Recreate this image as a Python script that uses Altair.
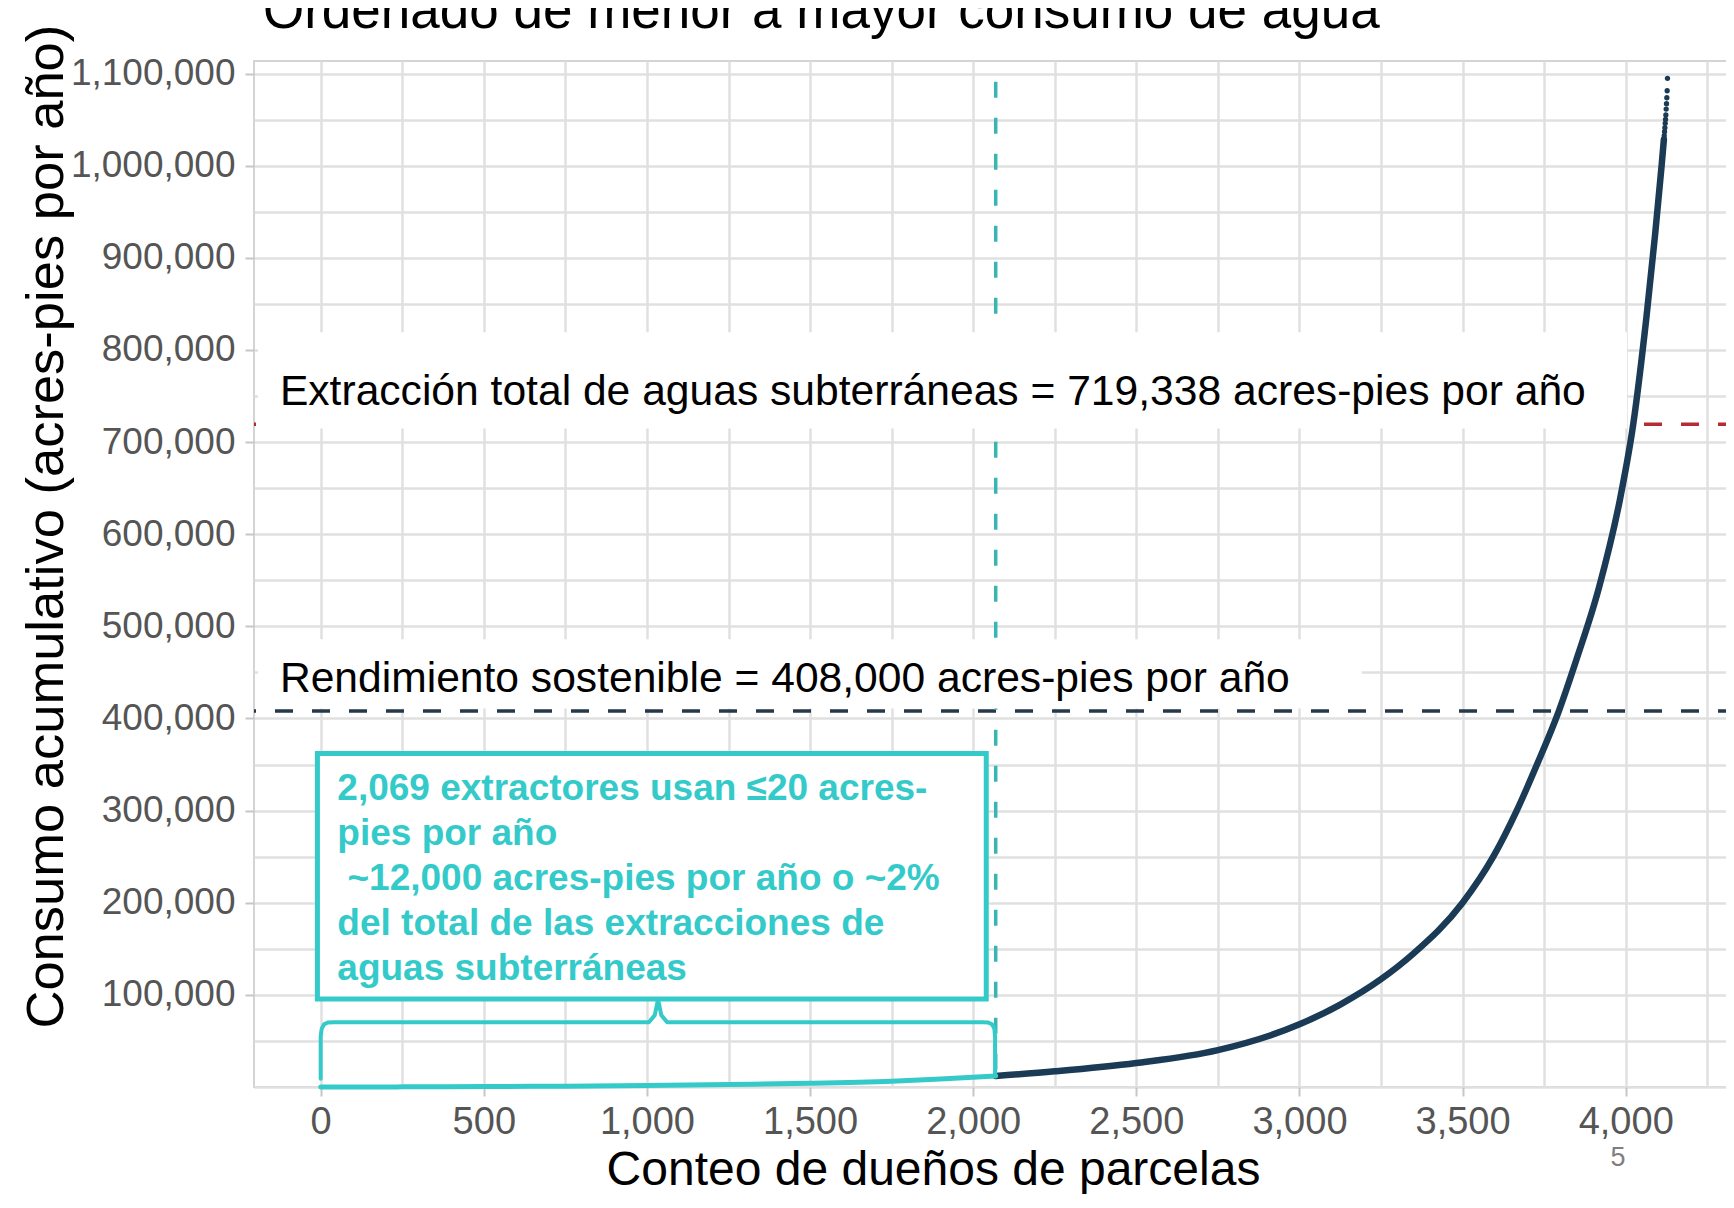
import altair as alt
import pandas as pd

# ---------------- data ----------------
# cumulative consumption, owners sorted from smallest to largest user
small_users_x = [0, 250, 500, 750, 1000, 1250, 1500, 1750, 1900, 2069]
small_users_cum = [0, 150, 450, 900, 1600, 2600, 4000, 6300, 8600, 12000]

large_users_x = [2069, 2250, 2500, 2750, 3000, 3125, 3250, 3350, 3500, 3594,
                 3666, 3728, 3795, 3850, 3918, 3983, 4023, 4063, 4090, 4110, 4117]
large_users_cum = [12000, 17000, 26000, 40000, 68000, 89500, 117000, 145000, 200000, 250000,
                   300000, 350000, 408000, 465000, 542000, 639000, 719338, 834000, 925000,
                   1000000, 1028500]

top_users_x = [4117, 4118, 4119, 4120, 4121, 4122, 4123, 4124, 4125, 4126, 4127, 4128]
top_users_cum = [1028500, 1032500, 1036800, 1041200, 1045900, 1050100, 1055000, 1061400,
                 1067200, 1073700, 1081300, 1094800]

sustainable_yield = [408000]
total_extraction = [719338]
small_user_cutoff = [2069]
cutoff_line_top = [1091000]

x_ticks = [0, 250, 500, 750, 1000, 1250, 1500, 1750, 2000, 2250, 2500, 2750,
           3000, 3250, 3500, 3750, 4000, 4250]
y_ticks = [0, 50000, 100000, 150000, 200000, 250000, 300000, 350000, 400000, 450000,
           500000, 550000, 600000, 650000, 700000, 750000, 800000, 850000, 900000,
           950000, 1000000, 1050000, 1100000]

# ---------------- annotation texts ----------------
title_text = "Ordenado de menor a mayor consumo de agua"
x_title = "Conteo de dueños de parcelas"
y_title = "Consumo acumulativo (acres-pies por año)"
extraction_label = "Extracción total de aguas subterráneas = 719,338 acres-pies por año"
yield_label = "Rendimiento sostenible = 408,000 acres-pies por año"
small_users_lines = [
    "2,069 extractores usan \u226420 acres-",
    "pies por año",
    "~12,000 acres-pies por año o ~2%",
    "del total de las extracciones de",
    "aguas subterráneas",
]
page_number = "5"

# ---------------- annotation layout (data coordinates) ----------------
brace_x = [0, 0, 3, 10, 22, 40, 1006, 1024, 1034, 1044, 1062, 2028, 2046, 2058, 2065, 2067, 2067]
brace_y = [9000, 55000, 63000, 68000, 70000, 70300, 70300, 78000, 95000, 78000, 70300,
           70300, 70000, 68000, 63000, 55000, 12500]

label_boxes = pd.DataFrame({
    "x1": [-192, -192], "x2": [4004, 3191],
    "y1": [714800, 410700], "y2": [819300, 486000],
})
label_texts = pd.DataFrame({
    "x": [-125, -125], "y": [740100, 428400],
    "label": [extraction_label, yield_label],
})
# teal note: one row per line (line 3 starts one space further right)
note_first_baseline = 311200
note_line_step = 48640
note_lines = pd.DataFrame({
    "x": [51, 51, 82, 51, 51],
    "y": [note_first_baseline - i * note_line_step for i in range(len(small_users_lines))],
    "line": small_users_lines,
})

FONT = "Liberation Sans"
TEAL = "#34CACA"
TEAL_DARK = "#3AB6B2"
NAVY = "#1B3A55"
RED = "#B32E33"
DASH = "#26394A"

xs = alt.Scale(domain=[-204.4, 4338], nice=False, zero=False)
ys = alt.Scale(domain=[0, 1113600], nice=False, zero=False)

x_axis = alt.Axis(
    title=x_title, values=x_ticks,
    labelExpr="datum.value % 500 === 0 ? format(datum.value, ',') : ''",
    labelFont=FONT, labelFontSize=38, labelColor="#555555", labelPadding=7,
    labelOverlap=False, labelFlush=False,
    tickSize=9, tickWidth=2,
    tickColor={"condition": {"test": "datum.value % 500 === 0", "value": "#c6c6c6"},
               "value": "transparent"},
    grid=True, gridColor="#e0e0e0", gridWidth=2.5, domain=False,
    titleFont=FONT, titleFontSize=48, titleFontWeight="normal", titleColor="#000000",
    titleX=679, titleY=97, titleAlign="center", titleBaseline="alphabetic",
)
y_axis = alt.Axis(
    title=y_title, values=y_ticks,
    labelExpr="datum.value % 100000 === 0 && datum.value > 0 ? format(datum.value, ',') : ''",
    labelFont=FONT, labelFontSize=37, labelColor="#555555", labelPadding=10,
    labelOverlap=False, labelFlush=False,
    tickSize=9, tickWidth=2,
    tickColor={"condition": {"test": "datum.value % 100000 === 0 && datum.value > 0",
                             "value": "#c6c6c6"},
               "value": "transparent"},
    grid=True, gridColor="#e0e0e0", gridWidth=2.5, domain=False,
    titleFont=FONT, titleFontSize=52.5, titleFontWeight="normal", titleColor="#000000",
    titleAngle=270, titleX=-192, titleY=967, titleAlign="left", titleBaseline="alphabetic",
)


def X(field):
    return alt.X(field, type="quantitative", scale=xs, axis=x_axis, title=x_title)


def Y(field):
    return alt.Y(field, type="quantitative", scale=ys, axis=y_axis, title=y_title)


red_rule = alt.Chart(pd.DataFrame({"y": total_extraction})).mark_rule(
    color=RED, strokeWidth=3.5, strokeDash=[18, 19]).encode(y=Y("y"))

yield_rule = alt.Chart(pd.DataFrame({"y": sustainable_yield})).mark_rule(
    color=DASH, strokeWidth=3.5, strokeDash=[18, 19]).encode(y=Y("y"))

cutoff_rule = alt.Chart(pd.DataFrame({"x": small_user_cutoff, "y0": cutoff_line_top, "y1": [0]})).mark_rule(
    color=TEAL_DARK, strokeWidth=3.5, strokeDash=[16, 20]).encode(x=X("x"), y=Y("y0"), y2="y1")

navy_curve = alt.Chart(pd.DataFrame({"x": large_users_x, "y": large_users_cum})).mark_line(
    color=NAVY, strokeWidth=6.5, strokeCap="round", strokeJoin="round", interpolate="monotone"
).encode(x=X("x"), y=Y("y"))

top_dots = alt.Chart(pd.DataFrame({"x": top_users_x, "y": top_users_cum})).mark_circle(
    color=NAVY, size=28, opacity=1).encode(x=X("x"), y=Y("y"))

teal_curve = alt.Chart(pd.DataFrame({"x": small_users_x, "y": small_users_cum})).mark_line(
    color=TEAL, strokeWidth=5, strokeCap="round", interpolate="monotone"
).encode(x=X("x"), y=Y("y"))

white_boxes = alt.Chart(label_boxes).mark_rect(color="white").encode(
    x=X("x1"), x2="x2", y=Y("y1"), y2="y2")

box_texts = alt.Chart(label_texts).mark_text(
    align="left", baseline="alphabetic", font=FONT, fontSize=42.6, color="#000000"
).encode(x=X("x"), y=Y("y"), text="label:N")

teal_box = alt.Chart(pd.DataFrame({"x1": [-10], "x2": [2040], "y1": [95500], "y2": [362100]})).mark_rect(
    fill="white", stroke=TEAL, strokeWidth=5).encode(x=X("x1"), x2="x2", y=Y("y1"), y2="y2")

teal_text = alt.Chart(note_lines).mark_text(
    align="left", baseline="alphabetic", font=FONT, fontSize=37, fontWeight="bold", color=TEAL
).encode(x=X("x"), y=Y("y"), text="line:N")

brace = alt.Chart(pd.DataFrame({"x": brace_x, "y": brace_y, "i": list(range(len(brace_x)))})).mark_line(
    color=TEAL, strokeWidth=4, strokeJoin="round", strokeCap="round"
).encode(x=X("x"), y=Y("y"), order="i:Q")

title_mark = alt.Chart(pd.DataFrame({"t": [title_text]})).mark_text(
    align="left", baseline="alphabetic", font=FONT, fontSize=53, color="#000000"
).encode(x=alt.value(9), y=alt.value(-33), text="t:N")

page_mark = alt.Chart(pd.DataFrame({"t": [page_number]})).mark_text(
    align="center", baseline="middle", font=FONT, fontSize=27, color="#7f7f7f"
).encode(x=alt.value(1364), y=alt.value(1097), text="t:N")

chart = alt.layer(
    red_rule, yield_rule, cutoff_rule, navy_curve, top_dots, teal_curve,
    white_boxes, box_texts, teal_box, teal_text, brace, title_mark, page_mark,
).properties(
    width=1482, height=1026,
    autosize=alt.AutoSizeParams(type="none"),
    padding={"left": 246, "top": 53, "right": -10, "bottom": 107},
    background="white",
).configure_view(stroke="#d4d4d4", strokeWidth=2)

chart.save("out.html", embed_options={"renderer": "svg", "actions": False})
